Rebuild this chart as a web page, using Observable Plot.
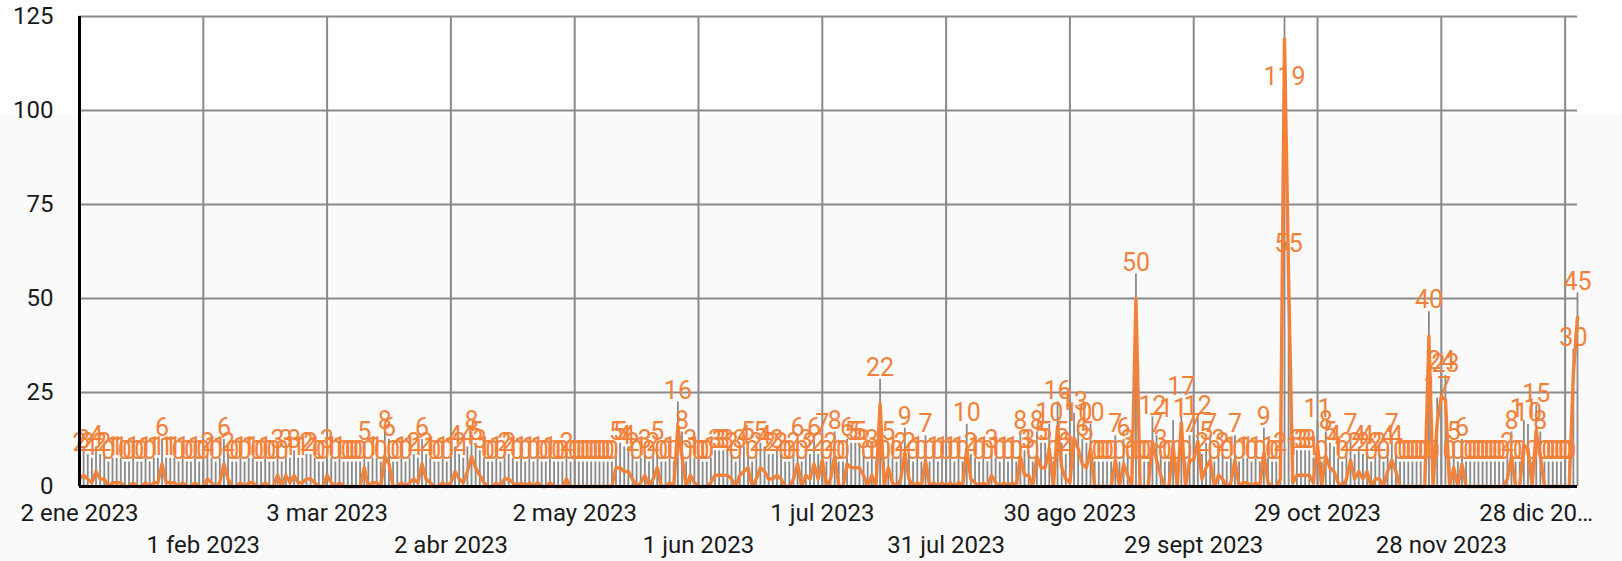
<!DOCTYPE html>
<html>
<head>
<meta charset="utf-8">
<script src="https://cdn.jsdelivr.net/npm/d3@7"></script>
<script src="https://cdn.jsdelivr.net/npm/@observablehq/plot@0.6"></script>
<style>
  html, body { margin: 0; padding: 0; }
  body { background: linear-gradient(to bottom, #ffffff 0px, #ffffff 115px, #fafafa 115px, #fafafa 100%); width: 1622px; height: 561px; overflow: hidden; }
  #chart svg { display: block; }
</style>
</head>
<body>
<div id="chart"></div>
<script>
// ---- data ----
const startDate = "2023-01-02";
const endDate = "2023-12-31";
const values = [
  2,3,2,1,4,2,2,0,1,1, 1,0,0,1,0,0,1,0,1,1, 6,1,1,1,0,1,0,0,1,0,
  0,2,1,0,1,6,2,0,0,1, 0,1,1,0,0,1,0,0,3,0, 3,1,3,1,1,2,2,1,0,0,
  3,1,0,1,0,0,0,0,0,5, 0,1,1,0,8,6,0,0,1,0, 1,2,1,6,2,1,0,0,1,0,
  1,4,2,1,4,8,5,3,1,0, 0,1,0,2,2,1,0,1,0,1, 0,1,0,0,1,0,0,0,2,0,
  0,0,0,0,0,0,0,0,0,0, 5,5,4,4,2,0,1,3,0,2, 5,0,0,1,0,16,8,0,3,1,
  0,0,0,1,3,3,3,3,2,0, 3,4,5,0,2,5,4,2,2,3, 2,0,0,2,6,0,3,2,6,2,
  7,0,2,8,0,0,6,5,5,5, 3,0,3,0,22,0,5,1,0,2, 9,2,0,1,0,7,0,1,0,1,
  0,1,0,1,0,10,2,1,0,1, 0,3,1,0,1,0,1,0,8,3, 3,0,8,5,5,10,0,16,5,2,
  1,13,10,6,5,10,0,0,0,0, 0,7,0,6,3,0,50,0,0,0, 12,7,3,0,0,11,0,17,0,7,
  7,12,2,5,7,0,3,2,0,1, 7,0,1,1,0,1,0,9,1,0, 0,2,119,55,1,3,3,3,3,1,
  11,0,8,5,4,1,0,2,7,2, 4,2,4,0,2,2,0,4,7,4, 0,0,0,0,0,0,0,40,0,17,
  24,23,0,5,0,6,0,0,0,0, 0,0,0,0,0,0,2,8,0,0, 11,10,0,15,8,0,0,0,0,0,
  0,0,30,45
];
const yTicks = [0, 25, 50, 75, 100, 125];
const xTickDates = ["2023-01-02","2023-02-01","2023-03-03","2023-04-02","2023-05-02","2023-06-01",
  "2023-07-01","2023-07-31","2023-08-30","2023-09-29","2023-10-29","2023-11-28","2023-12-28"];
const xTickLabels = ["2 ene 2023","1 feb 2023","3 mar 2023","2 abr 2023","2 may 2023","1 jun 2023",
  "1 jul 2023","31 jul 2023","30 ago 2023","29 sept 2023","29 oct 2023","28 nov 2023","28 dic 20…"];

// ---- build ----
const start = new Date(startDate);
const rows = values.map((v, i) => ({date: d3.utcDay.offset(start, i), v}));
const ticks = xTickDates.map((d, i) => ({date: new Date(d), label: xTickLabels[i], i}));
const yMax = 125;
const orange = "#f2813a";
const gray = "#8a8a8a";
const ink = "#1a1a1a";

const labelY = d => (d.v + 9.5 > yMax - 3 ? d.v - 10 : d.v + 9.5);
const ruleTop = d => Math.min(d.v + 6.5, yMax);

const lastTick = ticks[ticks.length - 1];
const row1 = ticks.filter(t => t.i % 2 === 0 && t !== lastTick);
const row2 = ticks.filter(t => t.i % 2 === 1);

const chart = Plot.plot({
  width: 1622,
  height: 561,
  marginLeft: 79,
  marginRight: 45,
  marginTop: 16,
  marginBottom: 75,
  x: {type: "utc", domain: [start, new Date(endDate)], axis: null},
  y: {domain: [0, yMax], axis: null},
  style: {background: "none", fontFamily: "Roboto, 'Noto Sans', sans-serif", fontSize: "24px", color: ink, overflow: "visible"},
  marks: [
    Plot.ruleY(yTicks, {stroke: gray, strokeWidth: 2}),
    Plot.ruleX(ticks, {x: "date", stroke: gray, strokeWidth: 2}),
    Plot.ruleX(rows, {x: "date", y1: 0, y2: ruleTop, stroke: gray, strokeWidth: 1.8}),
    Plot.text(rows, {x: "date", y: labelY, text: d => String(d.v), fill: orange, fontSize: 25, lineAnchor: "middle"}),
    Plot.lineY(rows, {x: "date", y: "v", stroke: orange, strokeWidth: 3.4, strokeLinejoin: "round"}),
    Plot.ruleX([start], {stroke: "#000", strokeWidth: 3}),
    Plot.ruleY([0], {stroke: "#000", strokeWidth: 3}),
    Plot.text(yTicks, {y: d => d, text: d => String(d), frameAnchor: "left", dx: -26, textAnchor: "end", lineAnchor: "middle", fill: ink, fontSize: 24}),
    Plot.text(row1, {x: "date", text: "label", frameAnchor: "bottom", dy: 27, lineAnchor: "middle", fill: ink, fontSize: 24}),
    Plot.text(row2, {x: "date", text: "label", frameAnchor: "bottom", dy: 59, lineAnchor: "middle", fill: ink, fontSize: 24}),
    Plot.text([lastTick], {x: "date", text: "label", frameAnchor: "bottom", dy: 27, dx: 28, textAnchor: "end", lineAnchor: "middle", fill: ink, fontSize: 24})
  ]
});
document.getElementById("chart").append(chart);
</script>
</body>
</html>
